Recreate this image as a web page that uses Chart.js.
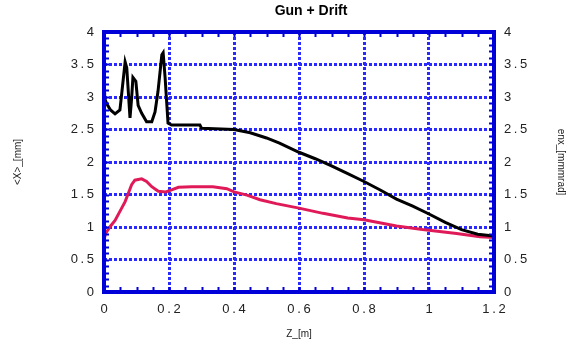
<!DOCTYPE html>
<html>
<head>
<meta charset="utf-8">
<script src="https://cdn.jsdelivr.net/npm/chart.js@4"></script>
<style>
    html, body { margin: 0; padding: 0; background: #fff; }
    #wrap { width: 579px; height: 340px; }
</style>
</head>
<body>
<div id="wrap"><canvas id="chart"></canvas></div>
<script>
// <X> beam size (black, left axis)
const sizeZ = [0, 0.002, 0.008, 0.02, 0.034, 0.049, 0.054, 0.065, 0.07, 0.08, 0.085, 0.089, 0.098, 0.105, 0.116, 0.131,
    0.147, 0.157, 0.166, 0.178, 0.182, 0.188, 0.197, 0.208, 0.295, 0.3, 0.4, 0.45, 0.5, 0.54, 0.6, 0.65, 0.7,
    0.75, 0.8, 0.85, 0.9, 0.95, 1.0, 1.05, 1.1, 1.15, 1.2];
const sizeX = [3.07, 2.98, 2.9, 2.8, 2.74, 2.8, 3.03, 3.54, 3.45, 2.68, 2.98, 3.3, 3.24, 2.87, 2.75, 2.62,
    2.62, 2.77, 3.08, 3.65, 3.68, 3.3, 2.6, 2.57, 2.57, 2.52, 2.5, 2.45, 2.37, 2.29, 2.15, 2.05, 1.94,
    1.82, 1.7, 1.57, 1.43, 1.32, 1.2, 1.07, 0.96, 0.89, 0.86];

// enx emittance (red, right axis)
const emitZ = [0, 0.005, 0.018, 0.034, 0.049, 0.065, 0.075, 0.085, 0.095, 0.116, 0.131, 0.147, 0.167, 0.19,
    0.208, 0.229, 0.27, 0.335, 0.378, 0.4, 0.44, 0.48, 0.53, 0.6, 0.674, 0.75, 0.8, 0.9, 0.98, 1.085, 1.157, 1.2];
const emitX = [0.8, 0.9, 1.0, 1.1, 1.24, 1.39, 1.52, 1.65, 1.72, 1.74, 1.7, 1.62, 1.55, 1.54,
    1.57, 1.61, 1.62, 1.62, 1.59, 1.54, 1.49, 1.42, 1.36, 1.29, 1.21, 1.14, 1.11, 1.015, 0.96, 0.9, 0.85, 0.84];

const zRange = [0, 1.2];
const yRange = [0, 4];

const blue = '#0000d8';
const gridBlue = '#2a2aff';
const fontFamily = '"Liberation Sans", Arial, sans-serif';

const toPoints = (xs, ys) => xs.map((x, i) => ({ x, y: ys[i] }));
const spaced = (v) => String(Math.round(v * 10) / 10).split('').join('\u2009');

const framePlugin = {
    id: 'frame',
    afterDatasetsDraw(chart) {
        const { ctx, chartArea: a, scales } = chart;
        ctx.save();
        ctx.strokeStyle = blue;
        ctx.lineWidth = 2;
        // minor ticks, pointing inward
        for (let v = 0; v <= 4.0001; v += 0.1) {
            const py = Math.round(scales.y.getPixelForValue(v)) + 0.5;
            ctx.beginPath();
            ctx.moveTo(a.left, py); ctx.lineTo(a.left + 5, py);
            ctx.moveTo(a.right, py); ctx.lineTo(a.right - 5, py);
            ctx.stroke();
        }
        for (let v = 0; v <= 1.2001; v += 0.05) {
            const px = Math.round(scales.x.getPixelForValue(v)) + 0.5;
            ctx.beginPath();
            ctx.moveTo(px, a.top); ctx.lineTo(px, a.top + 5);
            ctx.moveTo(px, a.bottom); ctx.lineTo(px, a.bottom - 5);
            ctx.stroke();
        }
        ctx.lineWidth = 4;
        ctx.strokeRect(a.left, a.top, a.right - a.left, a.bottom - a.top);

        ctx.fillStyle = '#000';
        ctx.font = 'bold 14px ' + fontFamily;
        ctx.textAlign = 'center';
        ctx.textBaseline = 'middle';
        ctx.fillText('Gun + Drift', (a.left + a.right) / 2 + 12, 11);
        ctx.restore();
    },
};

const tickFont = { family: fontFamily, size: 13 };
const titleFont = { family: fontFamily, size: 10 };

new Chart(document.getElementById('chart'), {
    type: 'scatter',
    data: {
        datasets: [
            {
                label: '<X>',
                data: toPoints(sizeZ, sizeX),
                showLine: true,
                borderColor: '#000000',
                borderWidth: 3,
                pointRadius: 0,
                yAxisID: 'y',
            },
            {
                label: 'enx',
                data: toPoints(emitZ, emitX),
                showLine: true,
                borderColor: '#e01a58',
                borderWidth: 3,
                pointRadius: 0,
                yAxisID: 'y2',
            },
        ],
    },
    options: {
        responsive: true,
        maintainAspectRatio: false,
        animation: false,
        layout: { padding: { top: 32, left: 0, right: 0, bottom: 0 } },
        plugins: {
            legend: { display: false },
            tooltip: { enabled: false },
        },
        scales: {
            x: {
                type: 'linear',
                min: zRange[0],
                max: zRange[1],
                afterFit: (s) => { s.height = 48; },
                ticks: { stepSize: 0.2, color: '#222', font: tickFont, padding: 10, callback: spaced, maxRotation: 0 },
                grid: {
                    color: (c) => (c.tick.value > 0 && c.tick.value < 1.2 ? gridBlue : 'transparent'),
                    lineWidth: 3,
                    drawTicks: false,
                },
                border: { display: false, dash: [3, 2] },
                title: { display: true, text: 'Z_[m]', color: '#222', font: titleFont, padding: { top: 4, bottom: 0 } },
            },
            y: {
                position: 'left',
                min: yRange[0],
                max: yRange[1],
                afterFit: (s) => { s.width = 104; },
                ticks: { stepSize: 0.5, color: '#222', font: tickFont, padding: 10, callback: spaced },
                grid: {
                    color: (c) => (c.tick.value > 0 && c.tick.value < 4 ? gridBlue : 'transparent'),
                    lineWidth: 3,
                    drawTicks: false,
                },
                border: { display: false, dash: [3, 2] },
                title: { display: true, text: '<X>_[mm]', color: '#222', font: titleFont, padding: { top: 12, bottom: 0 } },
            },
            y2: {
                position: 'right',
                min: yRange[0],
                max: yRange[1],
                afterFit: (s) => { s.width = 85; },
                ticks: { stepSize: 0.5, color: '#222', font: tickFont, padding: 10, callback: spaced },
                grid: { display: false, drawTicks: false },
                border: { display: false },
                title: { display: true, text: 'enx_[mmmrad]', color: '#222', font: titleFont, padding: { top: 12, bottom: 0 } },
            },
        },
    },
    plugins: [framePlugin],
});
</script>
</body>
</html>
